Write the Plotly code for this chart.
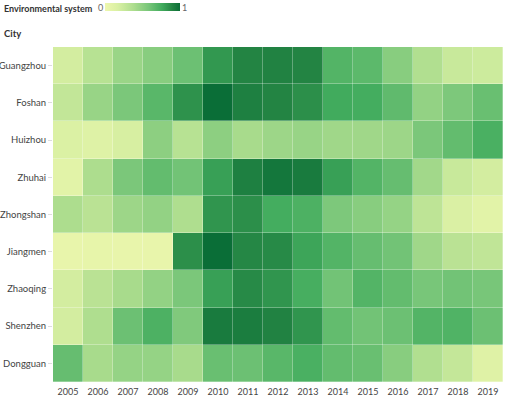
import plotly.graph_objects as go

years = [str(y) for y in range(2005, 2020)]
cities = ["Guangzhou", "Foshan", "Huizhou", "Zhuhai", "Zhongshan",
          "Jiangmen", "Zhaoqing", "Shenzhen", "Dongguan"]

guangzhou = [0.20, 0.33, 0.45, 0.52, 0.62, 0.83, 0.90, 0.91, 0.90, 0.70, 0.67, 0.52, 0.36, 0.25, 0.23]
foshan    = [0.28, 0.46, 0.57, 0.68, 0.85, 1.00, 0.92, 0.90, 0.86, 0.76, 0.75, 0.66, 0.48, 0.56, 0.63]
huizhou   = [0.15, 0.13, 0.18, 0.50, 0.33, 0.50, 0.40, 0.44, 0.46, 0.43, 0.43, 0.44, 0.57, 0.65, 0.73]
zhuhai    = [0.10, 0.38, 0.57, 0.65, 0.60, 0.80, 0.92, 0.96, 0.94, 0.80, 0.70, 0.64, 0.42, 0.25, 0.20]
zhongshan = [0.38, 0.32, 0.44, 0.48, 0.37, 0.84, 0.86, 0.75, 0.72, 0.56, 0.52, 0.47, 0.30, 0.16, 0.10]
jiangmen  = [0.05, 0.06, 0.05, 0.05, 0.86, 1.00, 0.89, 0.88, 0.78, 0.70, 0.64, 0.60, 0.43, 0.32, 0.29]
zhaoqing  = [0.20, 0.32, 0.40, 0.48, 0.57, 0.80, 0.88, 0.84, 0.74, 0.60, 0.70, 0.65, 0.58, 0.60, 0.58]
shenzhen  = [0.20, 0.37, 0.62, 0.72, 0.55, 0.94, 0.93, 0.91, 0.84, 0.65, 0.60, 0.62, 0.70, 0.71, 0.62]
dongguan  = [0.64, 0.40, 0.47, 0.47, 0.40, 0.63, 0.62, 0.68, 0.73, 0.65, 0.63, 0.52, 0.36, 0.27, 0.12]

z = [guangzhou, foshan, huizhou, zhuhai, zhongshan, jiangmen, zhaoqing, shenzhen, dongguan]

colorscale = [
    [0.0, "#eef7ae"], [0.17, "#d9f0a3"], [0.38, "#addd8e"], [0.58, "#78c679"],
    [0.76, "#41ab5d"], [0.9, "#238443"], [1.0, "#0a6e37"],
]

# plot area in pixels: x 53..503, y 47..382
L, R, T, B = 53, 2, 47, 15
W, H = 505, 397
PW, PH = W - L - R, H - T - B

def px(xp):
    return (xp - L) / PW

def py(yp):
    return (H - B - yp) / PH

fig = go.Figure(go.Heatmap(
    x=years, y=cities, z=z, zmin=0, zmax=1,
    colorscale=colorscale, xgap=0.3, ygap=0.3,
    colorbar=dict(orientation="h", lenmode="pixels", len=75, thickness=8,
                  x=px(105), xanchor="left", y=py(3), yanchor="top",
                  ypad=0, xpad=0, showticklabels=False, ticks="", outlinewidth=0),
))

font = "Lato, 'Open Sans', sans-serif"
fig.update_layout(
    width=W, height=H,
    margin=dict(l=L, r=R, t=T, b=B, autoexpand=False),
    paper_bgcolor="white", plot_bgcolor="white",
    font=dict(family=font, size=10, color="#444"),
    xaxis=dict(type="category", showgrid=False, zeroline=False, ticks="outside",
               ticklen=1, tickcolor="rgba(0,0,0,0)", automargin=False,
               tickfont=dict(size=9, color="#444")),
    yaxis=dict(type="category", autorange="reversed", showgrid=False, zeroline=False,
               ticks="outside", ticklen=4, tickcolor="#ddd", automargin=False,
               tickfont=dict(size=9.5, color="#444")),
)
fig.add_annotation(text="<b>Environmental system</b>", xref="paper", yref="paper",
                   x=px(2), y=py(8), xanchor="left", yanchor="middle",
                   showarrow=False, font=dict(size=9, color="#333"))
fig.add_annotation(text="0", xref="paper", yref="paper",
                   x=px(100), y=py(7), xanchor="center", yanchor="middle",
                   showarrow=False, font=dict(size=9, color="#666"))
fig.add_annotation(text="1", xref="paper", yref="paper",
                   x=px(184), y=py(7), xanchor="center", yanchor="middle",
                   showarrow=False, font=dict(size=9, color="#666"))
fig.add_annotation(text="<b>City</b>", xref="paper", yref="paper",
                   x=px(2), y=py(33), xanchor="left", yanchor="middle",
                   showarrow=False, font=dict(size=9.5, color="#333"))

fig.write_html("out.html", config={"displayModeBar": False},
               post_script="document.body.style.margin='0';document.body.style.overflow='hidden';")
